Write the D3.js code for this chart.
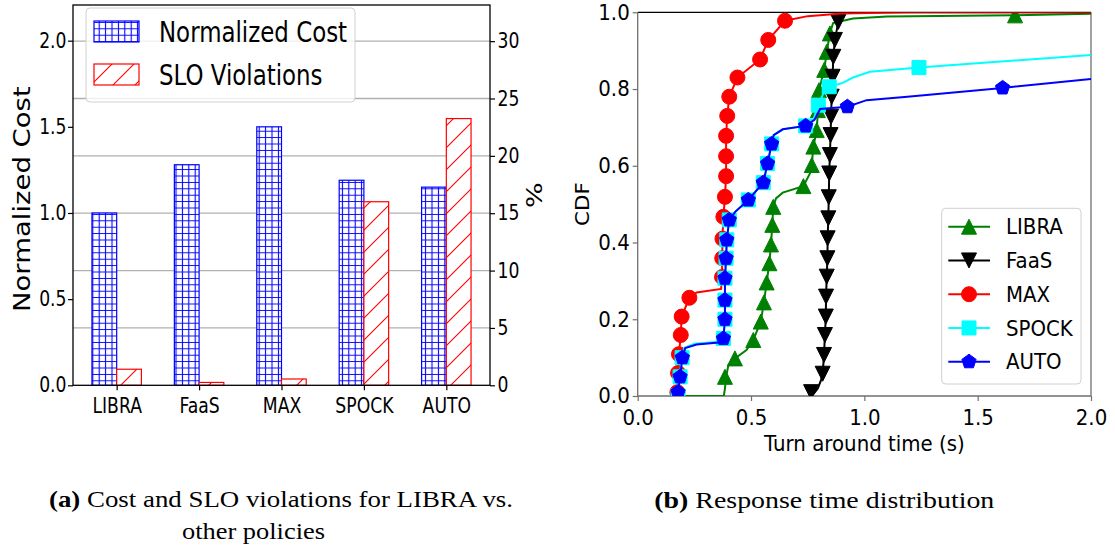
<!DOCTYPE html>
<html lang="en">
<head>
<meta charset="UTF-8">
<title>LIBRA cost, SLO violations and response time</title>
<script src="https://d3js.org/d3.v7.min.js"></script>
<style>
    body { margin: 0; background: #fff; }
    text { font-family: "DejaVu Sans", sans-serif; fill: #000; }
    .cap { font-family: "Liberation Serif", "DejaVu Serif", serif; }
</style>
</head>
<body>
<script>
    const width = 1115;
    const height = 550;

    // (a) cost and SLO violations
    const policies = ["LIBRA", "FaaS", "MAX", "SPOCK", "AUTO"];
    const normCost = [1.0, 1.28, 1.5, 1.19, 1.15];
    const sloViolations = [1.4, 0.25, 0.55, 16.0, 23.25];
    const costTicks = [0.0, 0.5, 1.0, 1.5, 2.0];
    const pctTicks = [0, 5, 10, 15, 20, 25, 30];

    // (b) response time CDF, [turnaround s, cdf]
    const timeTicks = [0.0, 0.5, 1.0, 1.5, 2.0];
    const cdfTicks = [0.0, 0.2, 0.4, 0.6, 0.8, 1.0];

    const libraLine = [[0.17,0],[0.38,0],[0.385,0.02],[0.39,0.05],[0.40,0.08],[0.429,0.098],[0.48,0.12],[0.51,0.146],
        [0.543,0.194],[0.557,0.244],[0.569,0.296],[0.581,0.346],[0.588,0.395],[0.594,0.446],[0.598,0.493],[0.61,0.515],
        [0.64,0.53],[0.731,0.547],[0.76,0.58],[0.768,0.602],[0.775,0.65],[0.79,0.693],[0.795,0.745],[0.8,0.797],
        [0.823,0.85],[0.834,0.897],[0.848,0.945],[0.862,0.972],[0.95,0.984],[1.1,0.989],[1.665,0.992],[2.0,0.996]];
    const libraMarks = [[0.18,0],[0.385,0.05],[0.429,0.098],[0.51,0.146],[0.543,0.194],[0.557,0.244],[0.569,0.296],
        [0.581,0.346],[0.588,0.395],[0.594,0.446],[0.598,0.493],[0.731,0.547],[0.768,0.602],[0.775,0.65],[0.79,0.693],
        [0.795,0.745],[0.8,0.797],[0.823,0.85],[0.834,0.897],[0.848,0.945],[1.665,0.992]];

    const faasLine = [[0.76,0.005],[0.778,0.007],[0.795,0.02],[0.808,0.04],[0.816,0.058],[0.822,0.107],[0.826,0.159],
        [0.83,0.207],[0.831,0.259],[0.834,0.311],[0.837,0.359],[0.838,0.411],[0.841,0.463],[0.843,0.518],[0.845,0.58],
        [0.848,0.628],[0.851,0.68],[0.853,0.728],[0.856,0.78],[0.86,0.832],[0.863,0.884],[0.87,0.928],[0.885,0.975],
        [0.9,1.0],[2.0,1.0]];
    const faasMarks = [[0.765,0.01],[0.816,0.058],[0.822,0.107],[0.826,0.159],[0.83,0.207],[0.831,0.259],[0.834,0.311],
        [0.837,0.359],[0.838,0.411],[0.841,0.463],[0.843,0.518],[0.845,0.58],[0.848,0.628],[0.851,0.68],[0.853,0.728],
        [0.856,0.78],[0.86,0.832],[0.863,0.884],[0.87,0.928],[0.885,0.975]];

    const maxLine = [[0.175,0],[0.178,0.06],[0.182,0.109],[0.19,0.159],[0.194,0.207],[0.228,0.256],[0.26,0.27],
        [0.368,0.279],[0.372,0.31],[0.373,0.359],[0.374,0.41],[0.378,0.467],[0.385,0.519],[0.39,0.573],[0.39,0.625],
        [0.39,0.678],[0.395,0.73],[0.404,0.78],[0.44,0.83],[0.54,0.877],[0.576,0.928],[0.65,0.978],[0.75,0.99],
        [0.9,0.997],[1.2,1.0],[2.0,1.0]];
    const maxMarks = [[0.175,0.01],[0.178,0.06],[0.182,0.109],[0.19,0.159],[0.194,0.207],[0.228,0.256],[0.372,0.31],
        [0.373,0.359],[0.374,0.41],[0.378,0.467],[0.385,0.519],[0.39,0.573],[0.39,0.625],[0.39,0.678],[0.395,0.73],
        [0.404,0.78],[0.44,0.83],[0.54,0.877],[0.576,0.928],[0.65,0.978]];

    const spockLine = [[0.165,0],[0.18,0.03],[0.187,0.06],[0.195,0.1],[0.205,0.125],[0.25,0.136],[0.37,0.142],
        [0.378,0.15],[0.385,0.2],[0.385,0.25],[0.385,0.307],[0.39,0.359],[0.393,0.407],[0.404,0.459],[0.43,0.48],
        [0.488,0.511],[0.554,0.556],[0.573,0.606],[0.591,0.657],[0.6,0.68],[0.64,0.695],[0.741,0.704],[0.775,0.72],
        [0.797,0.758],[0.82,0.79],[0.845,0.806],[0.9,0.815],[0.95,0.83],[1.025,0.845],[1.24,0.856],[2.0,0.889]];
    const spockMarks = [[0.178,0],[0.187,0.05],[0.196,0.1],[0.378,0.15],[0.385,0.2],[0.385,0.25],[0.385,0.307],
        [0.39,0.359],[0.393,0.407],[0.404,0.459],[0.488,0.511],[0.554,0.556],[0.573,0.606],[0.591,0.657],[0.741,0.704],
        [0.797,0.758],[0.845,0.806],[1.241,0.856]];

    const autoLine = [[0.17,0],[0.178,0.01],[0.187,0.05],[0.197,0.1],[0.21,0.125],[0.26,0.134],[0.37,0.14],
        [0.378,0.15],[0.385,0.2],[0.385,0.25],[0.385,0.307],[0.39,0.359],[0.393,0.407],[0.404,0.459],[0.43,0.48],
        [0.488,0.511],[0.554,0.556],[0.573,0.606],[0.591,0.657],[0.6,0.68],[0.64,0.695],[0.741,0.704],[0.78,0.72],
        [0.805,0.748],[0.925,0.754],[1.01,0.771],[1.19,0.78],[1.61,0.803],[2.0,0.826]];
    const autoMarks = [[0.178,0.01],[0.187,0.05],[0.197,0.1],[0.378,0.15],[0.385,0.2],[0.385,0.25],[0.385,0.307],
        [0.39,0.359],[0.393,0.407],[0.404,0.459],[0.488,0.511],[0.554,0.556],[0.573,0.606],[0.591,0.657],[0.741,0.704],
        [0.925,0.754],[1.61,0.803]];

    const series = [
        {name: "LIBRA", color: "#008000", marker: "up",       line: libraLine, marks: libraMarks},
        {name: "FaaS",  color: "#000000", marker: "down",     line: faasLine,  marks: faasMarks},
        {name: "MAX",   color: "#ff0000", marker: "circle",   line: maxLine,   marks: maxMarks},
        {name: "SPOCK", color: "#00ffff", marker: "square",   line: spockLine, marks: spockMarks},
        {name: "AUTO",  color: "#0000ff", marker: "pentagon", line: autoLine,  marks: autoMarks}
    ];

    const svg = d3.select("body").append("svg")
            .attr("width", width).attr("height", height);

    // squeeze text horizontally, the figure was scaled unevenly
    function squeeze(sel, sx) {
        sel.each(function() {
            const t = d3.select(this);
            const x = +t.attr("x") || 0;
            t.attr("x", x / sx).attr("transform", `scale(${sx},1)`);
        });
    }

    // hatch patterns
    const defs = svg.append("defs");
    const gs = 6.4;
    const grid = defs.append("pattern").attr("id", "hatchGrid")
            .attr("patternUnits", "userSpaceOnUse").attr("width", gs).attr("height", gs);
    grid.append("rect").attr("width", gs).attr("height", gs).attr("fill", "#fff");
    grid.append("path").attr("d", `M${gs/2},0V${gs}M0,${gs/2}H${gs}`)
            .attr("stroke", "#0000ff").attr("stroke-width", 1.1);

    const ds = 22;
    const diag = defs.append("pattern").attr("id", "hatchDiag")
            .attr("patternUnits", "userSpaceOnUse").attr("width", ds).attr("height", ds);
    diag.append("rect").attr("width", ds).attr("height", ds).attr("fill", "#fff");
    diag.append("path")
            .attr("d", `M0,${ds}L${ds},0M${-ds/4},${ds/4}L${ds/4},${-ds/4}M${3*ds/4},${5*ds/4}L${5*ds/4},${3*ds/4}`)
            .attr("stroke", "#ff0000").attr("stroke-width", 1.1);

    // ---------- (a) bar chart ----------
    const A = {left: 73, right: 490, top: 5, bottom: 385.3};
    const sxA = 0.84;
    const xA = d3.scaleLinear().domain([-0.53, policies.length - 1 + 0.53]).range([A.left, A.right]);
    const yCost = d3.scaleLinear().domain([0, 2.207]).range([A.bottom, A.top]);
    const yPct = d3.scaleLinear().domain([0, 33.15]).range([A.bottom, A.top]);
    const barW = 0.3;

    const gA = svg.append("g");

    gA.append("g").selectAll("line")
            .data(pctTicks.slice(1))
            .join("line")
            .attr("x1", A.left).attr("x2", A.right)
            .attr("y1", d => yPct(d)).attr("y2", d => yPct(d))
            .style("stroke", "#b0b0b0").style("stroke-width", 1.3);

    gA.append("g").selectAll("rect")
            .data(normCost)
            .join("rect")
            .attr("x", (d, i) => xA(i - barW))
            .attr("width", xA(barW) - xA(0))
            .attr("y", d => yCost(d))
            .attr("height", d => yCost(0) - yCost(d))
            .style("fill", "url(#hatchGrid)")
            .style("stroke", "#0000ff").style("stroke-width", 1.2);

    gA.append("g").selectAll("rect")
            .data(sloViolations)
            .join("rect")
            .attr("x", (d, i) => xA(i))
            .attr("width", xA(barW) - xA(0))
            .attr("y", d => yPct(d))
            .attr("height", d => yPct(0) - yPct(d))
            .style("fill", "url(#hatchDiag)")
            .style("stroke", "#ff0000").style("stroke-width", 1.2);

    const axA = gA.append("g").attr("transform", `translate(${A.left},0)`)
            .call(d3.axisLeft(yCost).tickValues(costTicks).tickFormat(d3.format(".1f"))
                    .tickSize(5).tickPadding(1.5));
    const axA2 = gA.append("g").attr("transform", `translate(${A.right},0)`)
            .call(d3.axisRight(yPct).tickValues(pctTicks).tickSize(5).tickPadding(2.5));
    const axA3 = gA.append("g").attr("transform", `translate(0,${A.bottom})`)
            .call(d3.axisBottom(xA).tickValues(d3.range(policies.length)).tickFormat(i => policies[i])
                    .tickSize(5).tickPadding(8));
    [axA, axA2, axA3].forEach(ax => {
        ax.select(".domain").remove();
        ax.selectAll("line").style("stroke", "#000").style("stroke-width", 1.2);
        ax.selectAll("text").style("font-size", "20.5px").style("font-family", "DejaVu Sans");
        squeeze(ax.selectAll("text"), sxA);
    });

    gA.append("rect")
            .attr("x", A.left).attr("y", A.top)
            .attr("width", A.right - A.left).attr("height", A.bottom - A.top)
            .style("fill", "none").style("stroke", "#000").style("stroke-width", 1.3);

    gA.append("text")
            .attr("transform", `translate(29.5,${(A.top + A.bottom) / 2 + 4}) scale(0.81,1) rotate(-90)`)
            .attr("text-anchor", "middle")
            .style("font-size", "27.5px")
            .text("Normalized Cost");

    gA.append("text")
            .attr("transform", `translate(542,${(A.top + A.bottom) / 2}) scale(0.81,1) rotate(-90)`)
            .attr("text-anchor", "middle")
            .style("font-size", "27px")
            .text("%");

    // legend (a)
    const legA = gA.append("g");
    legA.append("rect")
            .attr("x", 86).attr("y", 8).attr("width", 269).attr("height", 94).attr("rx", 4)
            .style("fill", "#fff").style("fill-opacity", 0.8)
            .style("stroke", "#d0d0d0").style("stroke-width", 1);
    [["Normalized Cost", "url(#hatchGrid)", "#0000ff"], ["SLO Violations", "url(#hatchDiag)", "#ff0000"]]
        .forEach((d, i) => {
            const y = 21 + i * 43;
            legA.append("rect").attr("x", 94).attr("y", y).attr("width", 45).attr("height", 21)
                    .style("fill", d[1]).style("stroke", d[2]).style("stroke-width", 1.2);
            const t = legA.append("text").attr("x", 159).attr("y", y + 10.5).attr("dy", "0.36em")
                    .style("font-size", "29px").text(d[0]);
            squeeze(t, 0.79);
        });

    // ---------- (b) CDF ----------
    const B = {left: 637.7, right: 1091, top: 12.3, bottom: 396};
    const sxB = 0.92;
    const xT = d3.scaleLinear().domain([0, 2]).range([B.left, B.right]);
    const yC = d3.scaleLinear().domain([0, 1]).range([B.bottom, B.top]);

    const gB = svg.append("g");

    defs.append("clipPath").attr("id", "clipB")
            .append("rect")
            .attr("x", B.left).attr("y", B.top)
            .attr("width", B.right - B.left).attr("height", B.bottom - B.top);

    // spines: top black, others grey
    gB.append("line").attr("x1", B.left).attr("x2", B.right).attr("y1", B.top).attr("y2", B.top)
            .style("stroke", "#000").style("stroke-width", 1.3);
    gB.append("path")
            .attr("d", `M${B.right},${B.top}V${B.bottom}H${B.left}V${B.top}`)
            .style("fill", "none").style("stroke", "#707070").style("stroke-width", 1.3);

    const axB = gB.append("g").attr("transform", `translate(${B.left},0)`)
            .call(d3.axisLeft(yC).tickValues(cdfTicks).tickFormat(d3.format(".1f")).tickSize(5).tickPadding(3));
    const axB2 = gB.append("g").attr("transform", `translate(0,${B.bottom})`)
            .call(d3.axisBottom(xT).tickValues(timeTicks).tickFormat(d3.format(".1f")).tickSize(5).tickPadding(8.5));
    [axB, axB2].forEach(ax => {
        ax.select(".domain").remove();
        ax.selectAll("line").style("stroke", "#707070").style("stroke-width", 1.2);
        ax.selectAll("text").style("font-size", "21.5px").style("font-family", "DejaVu Sans");
        squeeze(ax.selectAll("text"), sxB);
    });

    gB.append("text")
            .attr("transform", `translate(589,${(B.top + B.bottom) / 2}) scale(0.92,1) rotate(-90)`)
            .attr("text-anchor", "middle")
            .style("font-size", "21.5px")
            .text("CDF");

    const xl = gB.append("text")
            .attr("x", (B.left + B.right) / 2).attr("y", 451)
            .attr("text-anchor", "middle")
            .style("font-size", "22px")
            .text("Turn around time (s)");
    squeeze(xl, 0.9);

    function markerPath(kind) {
        const r = 7.5;
        if (kind === "up") return `M0,${-r}L${r},${r}L${-r},${r}Z`;
        if (kind === "down") return `M0,${r}L${r},${-r}L${-r},${-r}Z`;
        if (kind === "square") return `M${-7},${-7}H7V7H-7Z`;
        if (kind === "circle") return `M${r},0A${r},${r} 0 1 1 ${-r},0A${r},${r} 0 1 1 ${r},0Z`;
        const p = d3.range(5).map(k => {
            const a = -Math.PI / 2 + k * 2 * Math.PI / 5;
            return [r * Math.cos(a), r * Math.sin(a)];
        });
        return "M" + p.map(q => q.join(",")).join("L") + "Z";
    }

    const line = d3.line().x(d => xT(d[0])).y(d => yC(d[1]));
    const plotB = gB.append("g").attr("clip-path", "url(#clipB)");

    series.forEach(s => {
        plotB.append("path")
                .datum(s.line)
                .attr("d", line)
                .style("fill", "none").style("stroke", s.color).style("stroke-width", 2);
        plotB.append("g").selectAll("path")
                .data(s.marks)
                .join("path")
                .attr("d", markerPath(s.marker))
                .attr("transform", d => `translate(${xT(d[0])},${yC(d[1])})`)
                .style("fill", s.color).style("stroke", s.color).style("stroke-width", 1);
    });

    // legend (b)
    const legB = gB.append("g");
    legB.append("rect")
            .attr("x", 941.7).attr("y", 208.3).attr("width", 139.3).attr("height", 175.7).attr("rx", 4)
            .style("fill", "#fff").style("fill-opacity", 0.8)
            .style("stroke", "#d0d0d0").style("stroke-width", 1);
    series.forEach((s, i) => {
        const y = 226.7 + i * 33.75;
        legB.append("line").attr("x1", 948.3).attr("x2", 990).attr("y1", y).attr("y2", y)
                .style("stroke", s.color).style("stroke-width", 2);
        legB.append("path").attr("d", markerPath(s.marker))
                .attr("transform", `translate(969,${y})`)
                .style("fill", s.color).style("stroke", s.color).style("stroke-width", 1);
        const t = legB.append("text").attr("x", 1006).attr("y", y).attr("dy", "0.36em")
                .style("font-size", "21.5px").text(s.name);
        squeeze(t, sxB);
    });

    // ---------- captions ----------
    function caption(x, y, label, text, len) {
        const t = svg.append("text").attr("class", "cap")
                .attr("x", x).attr("y", y)
                .attr("textLength", len).attr("lengthAdjust", "spacingAndGlyphs")
                .style("font-size", "22.5px");
        if (label) t.append("tspan").style("font-weight", "bold").text(label + " ");
        t.append("tspan").text(text);
    }
    caption(49, 506.5, "(a)", "Cost and SLO violations for LIBRA vs.", 464);
    caption(182, 538.5, null, "other policies", 143);
    caption(654.3, 508, "(b)", "Response time distribution", 340);
</script>
</body>
</html>
